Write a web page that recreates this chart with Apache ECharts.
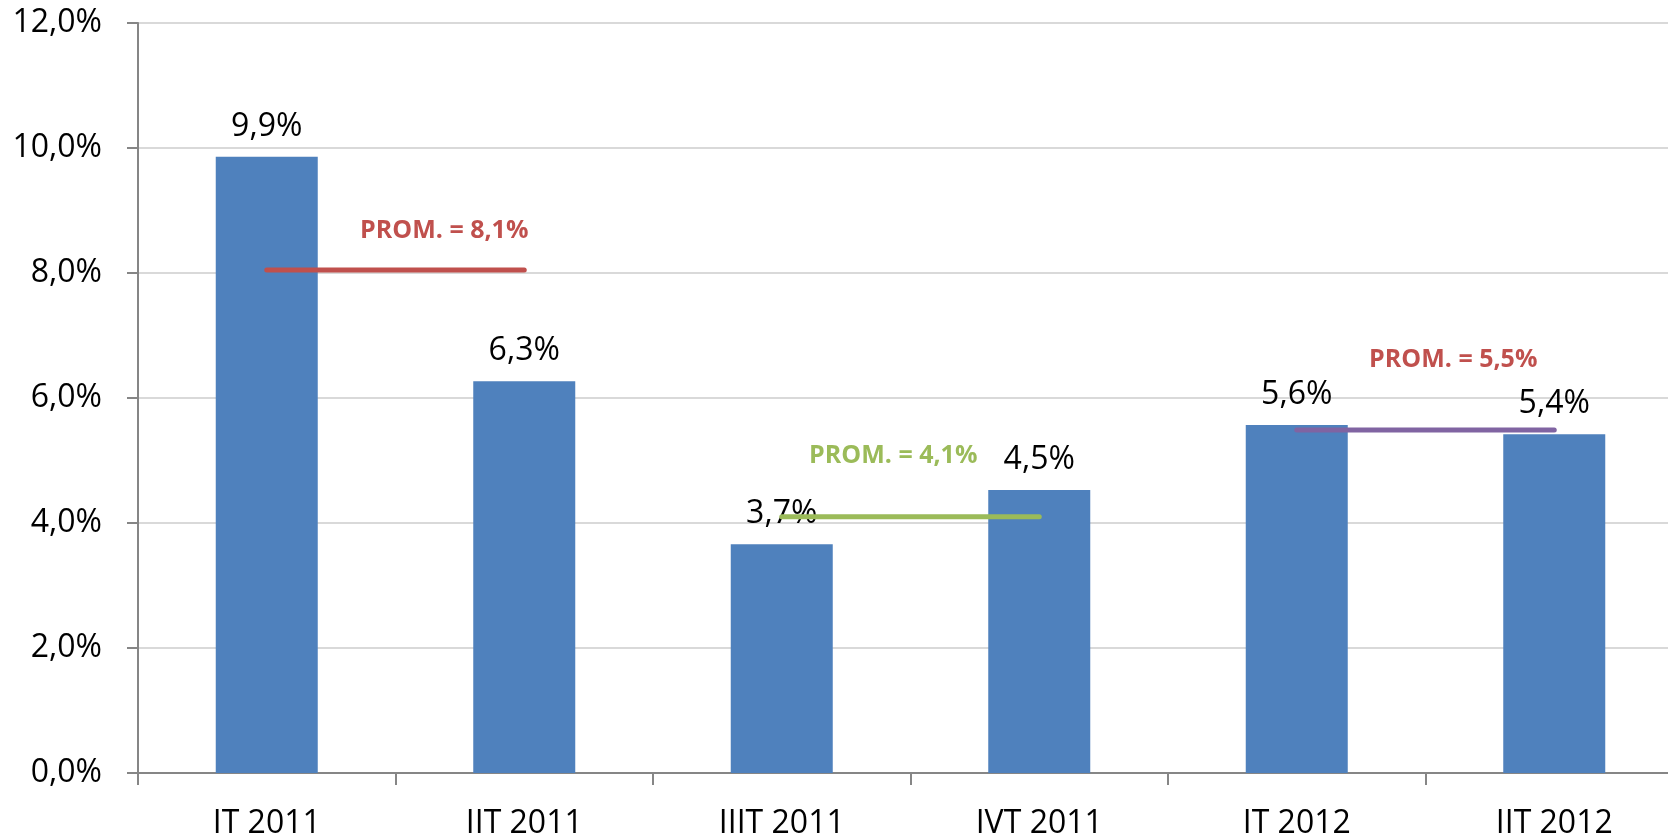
<!DOCTYPE html>
<html>
<head>
<meta charset="utf-8">
<script src="https://cdn.jsdelivr.net/npm/echarts@6/dist/echarts.min.js"></script>
<style>html,body{margin:0;padding:0;background:#fff;overflow:hidden;width:1668px;height:836px}#c{width:1700px;height:836px}</style>
</head>
<body>
<div id="c"></div>
<script>
const categories = ['IT 2011', 'IIT 2011', 'IIIT 2011', 'IVT 2011', 'IT 2012', 'IIT 2012'];
const values = [9.86, 6.27, 3.66, 4.53, 5.57, 5.42];
const avg2011a = [8.05, 8.05, null, null, null, null];
const avg2011b = [null, null, 4.1, 4.1, null, null];
const avg2012 = [null, null, null, null, 5.49, 5.49];
const avgLabels = ['PROM. = 8,1%', 'PROM. = 4,1%', 'PROM. = 5,5%'];

const FONT = '"Open Sans", "Liberation Sans", sans-serif';
const fmt = v => v.toFixed(1).replace('.', ',') + '%';

function avgSeries(data, color, labelText, labelColor, offset) {
  let last = -1;
  data.forEach((v, i) => { if (v !== null) last = i; });
  const out = data.map((v, i) => {
    if (v === null) return '-';
    if (i === last) {
      return { value: v, label: { show: true, position: 'inside', offset: offset,
        formatter: labelText, color: labelColor, fontFamily: FONT, fontWeight: 'bold', fontSize: 25 } };
    }
    return v;
  });
  return {
    type: 'line', data: out, symbol: 'circle', symbolSize: 2, showSymbol: true,
    lineStyle: { color: color, width: 5, cap: 'round' },
    itemStyle: { color: color },
    label: { show: false }, silent: true, z: 5, animation: false
  };
}

const chart = echarts.init(document.getElementById('c'));
chart.setOption({
  animation: false,
  backgroundColor: '#fff',
  grid: { left: 138, top: 23, right: 17, bottom: 63, containLabel: false, outerBoundsMode: 'none' },
  xAxis: {
    type: 'category', data: categories,
    axisLine: { lineStyle: { color: '#868686', width: 2 } },
    axisTick: { show: true, length: 12, lineStyle: { color: '#868686', width: 2 } },
    axisLabel: { color: '#000', fontFamily: FONT, fontSize: 32, margin: 35 }
  },
  yAxis: {
    type: 'value', min: 0, max: 12, interval: 2,
    axisLine: { show: true, lineStyle: { color: '#868686', width: 2 } },
    axisTick: { show: true, length: 11, lineStyle: { color: '#868686', width: 2 } },
    splitLine: { lineStyle: { color: '#d9d9d9', width: 2 } },
    axisLabel: { color: '#000', fontFamily: FONT, fontSize: 32, margin: 36, formatter: fmt }
  },
  series: [
    {
      type: 'bar', data: values, barWidth: 102,
      itemStyle: { color: '#4F81BD' },
      label: { show: true, position: 'top', distance: 14, color: '#000', fontFamily: FONT, fontSize: 32, formatter: p => fmt(p.value) }
    },
    avgSeries(avg2011a, '#C0504D', avgLabels[0], '#C0504D', [-80, -39]),
    avgSeries(avg2011b, '#9BBB59', avgLabels[1], '#9BBB59', [-146, -61]),
    avgSeries(avg2012, '#8064A2', avgLabels[2], '#C0504D', [-101, -70])
  ]
});
</script>
</body>
</html>
